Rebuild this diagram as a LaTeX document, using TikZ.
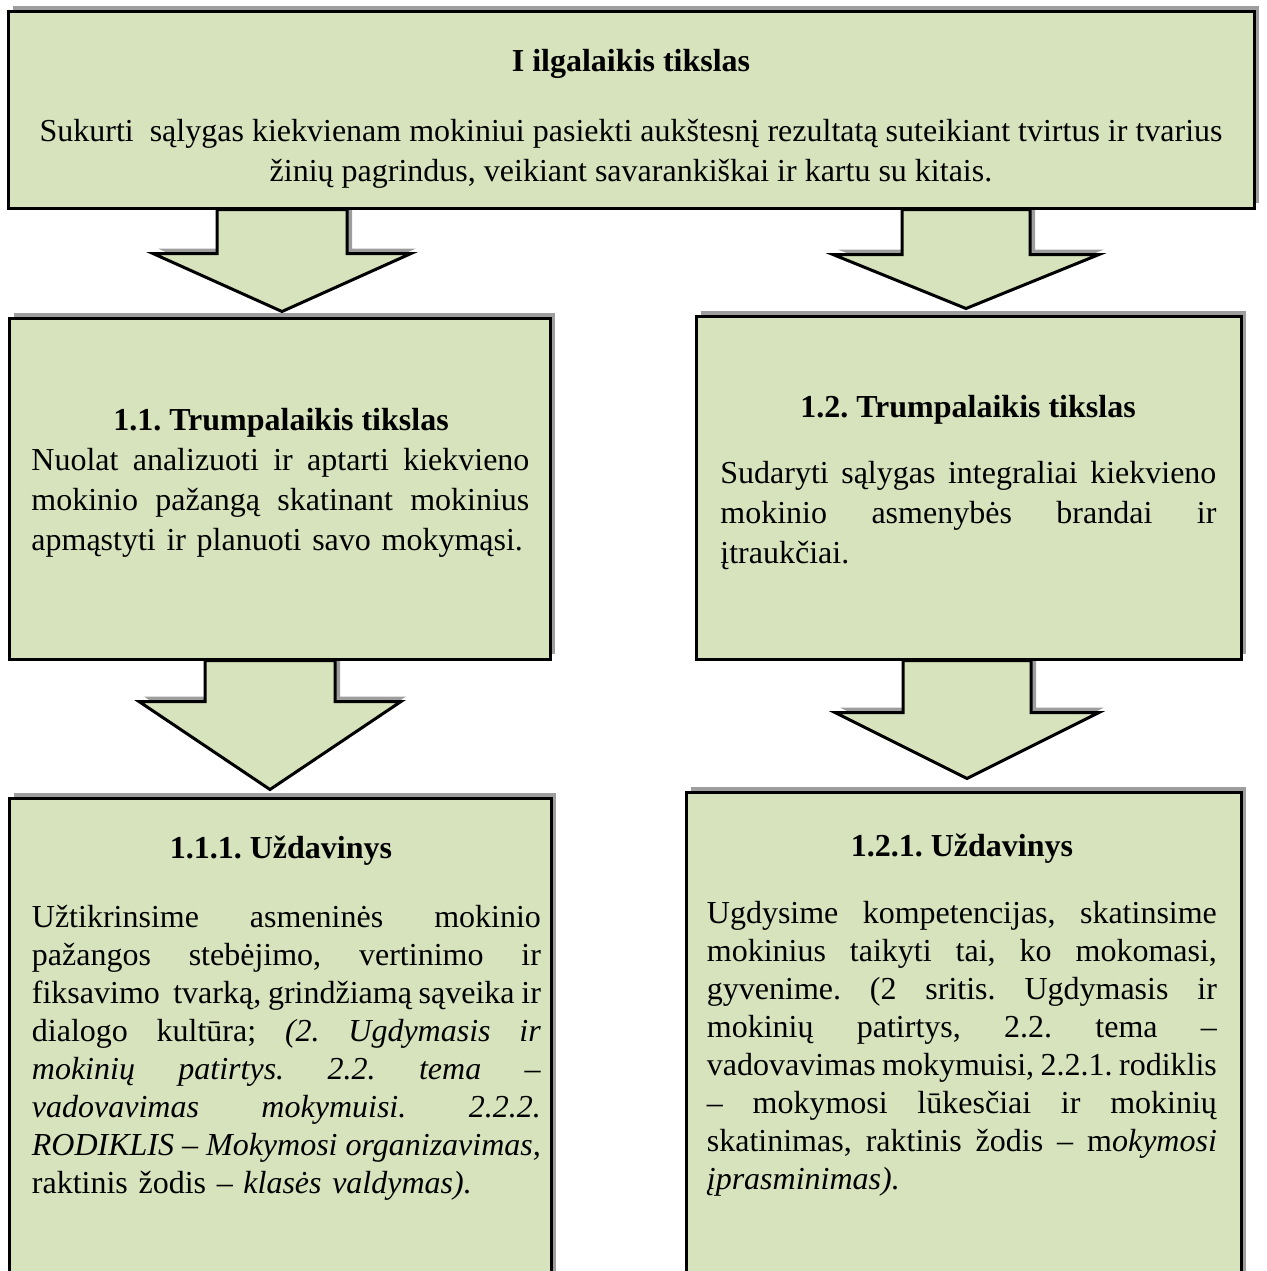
\documentclass[tikz,border=0pt]{standalone}
\usepackage{fontspec}
\setmainfont{Liberation Serif}
\usepackage{xcolor}
\usetikzlibrary{shadows,backgrounds,positioning}

\definecolor{boxgreen}{HTML}{D6E3BC}
\definecolor{shadowgray}{HTML}{9E9E9E}
\setlength{\parindent}{0pt}
\frenchspacing
\newlength{\jw}
\newcommand{\jline}[1]{\leavevmode{\spaceskip=.25em plus 2em minus .1em\hbox to \jw{#1}}}

\begin{document}
\begin{tikzpicture}[x=0.5pt,y=-0.5pt,
	font=\fontsize{16}{20}\selectfont,
	box/.style={draw=black,line width=1.5pt,fill=boxgreen,inner sep=0pt,
		drop shadow={shadow xshift=2.5pt,shadow yshift=2.5pt,fill=shadowgray,opacity=1}},
	arrowline/.style={draw=black,line width=1.5pt,fill=boxgreen,line join=miter,
		drop shadow={shadow xshift=2.5pt,shadow yshift=2.5pt,fill=shadowgray,opacity=1}},
	head/.style={font=\fontsize{16}{20}\selectfont\bfseries,anchor=base,inner sep=0pt},
	body/.style={anchor=north west,inner sep=0pt,align=left,text width=#1,
		execute at begin node={\setlength{\jw}{#1}}},
	pics/blockarr/.style n args={4}{code={
		\draw[arrowline] (-#1,0) -- (-#1,#3) -- (-#2,#3) -- (0,#4) -- (#2,#3)
			-- (#1,#3) -- (#1,0) -- cycle;
	}}]
	\useasboundingbox (0,0) rectangle (1266,1271);
	%
	\node[box,minimum width=623pt,minimum height=98.5pt] (goal) at (631,109.5) {};
	\node[box,minimum width=270.5pt,minimum height=170.5pt] (b11) at (279.5,488.5) {};
	\node[box,minimum width=272.5pt,minimum height=171.5pt] (b12) at (968.5,487.5) {};
	\node[box,minimum width=271pt,minimum height=251pt] (b111) at (280,1049) {}; % runs off the page
	\node[box,minimum width=277.5pt,minimum height=254pt] (b121) at (963.5,1046) {}; % runs off the page
	%
	\begin{scope}[on background layer]
		\pic[xshift=1.25pt] at (b11.north |- goal.south) {blockarr={65}{129}{44}{102}};
		\pic[xshift=-1.25pt] at (b12.north |- goal.south) {blockarr={64}{133}{45}{99}};
		\pic[xshift=-4.75pt] at (b11.south) {blockarr={65}{131}{41}{129}};
		\pic[xshift=-0.75pt] at (b12.south) {blockarr={64}{132}{52}{118}};
	\end{scope}
	%
	\node[head] (h0) at (631,71) {I ilgalaikis tikslas};
	\node[anchor=north,inner sep=0pt,align=center] (t0) at (631,111)
		{\rule{0pt}{15pt}Sukurti~ sąlygas kiekvienam mokiniui pasiekti aukštesnį rezultatą suteikiant tvirtus ir tvarius\\
		žinių pagrindus, veikiant savarankiškai ir kartu su kitais.};
	%
	\node[head] (h11) at (281,430) {1.1. Trumpalaikis tikslas};
	\node[body=249pt] (t11) at (31,440)
		{\rule{0pt}{15pt}\jline{Nuolat analizuoti ir aptarti kiekvieno}\\
		\jline{mokinio pažangą skatinant mokinius}\\
		apmąstyti ir planuoti savo mokymąsi.};
	%
	\node[head] (h12) at (968,417) {1.2. Trumpalaikis tikslas};
	\node[body=248pt] (t12) at (720,453)
		{\rule{0pt}{15pt}\jline{Sudaryti sąlygas integraliai kiekvieno}\\
		\jline{mokinio asmenybės brandai ir}\\
		įtraukčiai.};
	%
	\node[head] (h111) at (281,858) {1.1.1. Uždavinys};
	\node[body=254.5pt,font=\fontsize{16}{19}\selectfont] (t111) at (31.5,897)
		{\rule{0pt}{15pt}\jline{Užtikrinsime asmeninės mokinio}\\
		\jline{pažangos stebėjimo, vertinimo ir}\\
		\jline{fiksavimo~ tvarką, grindžiamą sąveika ir}\\
		\jline{dialogo kultūra; \textit{(2. Ugdymasis ir}}\\
		\jline{\textit{mokinių patirtys. 2.2. tema –}}\\
		\jline{\textit{vadovavimas mokymuisi. 2.2.2.}}\\
		\jline{\textit{RODIKLIS – Mokymosi organizavimas,}}\\
		raktinis žodis – \textit{klasės valdymas).}};
	%
	\node[head] (h121) at (962,856) {1.2.1. Uždavinys};
	\node[body=255pt,font=\fontsize{16}{19}\selectfont] (t121) at (706.5,893)
		{\rule{0pt}{15pt}\jline{Ugdysime kompetencijas, skatinsime}\\
		\jline{mokinius taikyti tai, ko mokomasi,}\\
		\jline{gyvenime. (2 sritis. Ugdymasis ir}\\
		\jline{mokinių patirtys, 2.2. tema –}\\
		\jline{vadovavimas mokymuisi, 2.2.1. rodiklis}\\
		\jline{– mokymosi lūkesčiai ir mokinių}\\
		\jline{skatinimas, raktinis žodis – m\textit{okymosi}}\\
		\textit{įprasminimas).}};
\end{tikzpicture}
\end{document}
